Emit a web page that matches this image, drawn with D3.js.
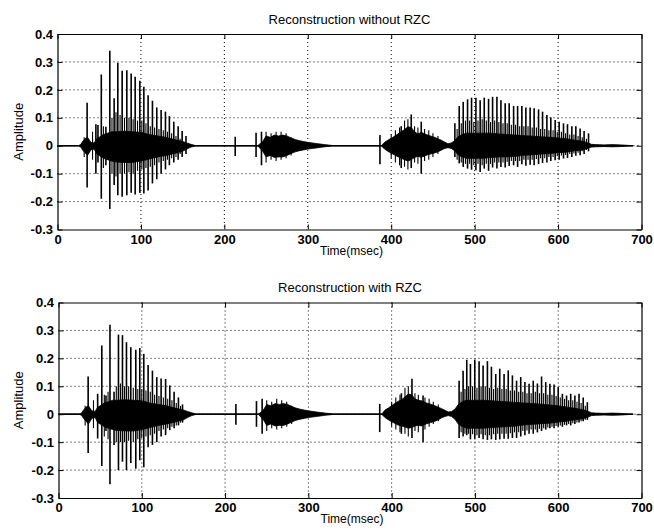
<!DOCTYPE html>
<html>
<head>
<meta charset="utf-8">
<script src="https://cdn.jsdelivr.net/npm/d3@7"></script>
<style>
  body { margin: 0; background: #fff; }
  svg { display: block; font-family: "Liberation Sans", Arial, Helvetica, sans-serif; }
</style>
</head>
<body>
<script>
'use strict';

// axis ticks
const xTicks = [0, 100, 200, 300, 400, 500, 600, 700];
const yTicks = [-0.3, -0.2, -0.1, 0, 0.1, 0.2, 0.3, 0.4];

// time span of the recorded signal (msec)
const signalSpan = [0, 690];

const envTimes = [0, 25, 28, 30, 33, 36, 40, 44, 47, 50, 55, 60, 65, 70, 80, 90, 100, 110, 120, 130, 140, 150, 155, 160, 166,
  240, 246, 250, 255, 260, 265, 270, 275, 280, 285, 290, 295, 300, 310, 320, 332,
  388, 392, 396, 402, 407, 412, 416, 420, 424, 428, 432, 436, 442, 447, 452, 456, 460, 464, 468, 472,
  476, 480, 485, 490, 500, 510, 520, 530, 540, 550, 560, 570, 580, 590, 600, 610, 620, 630, 636, 640,
  645, 655, 665, 675, 690];

// ---- without RZC ----
const topEnvHi = [0, 0, 0.005, 0.015, 0.025, 0.03, 0.012, 0.01, 0.025, 0.03, 0.04, 0.045, 0.05, 0.05, 0.052, 0.05, 0.048, 0.04, 0.035, 0.03, 0.022, 0.015, 0.01, 0.005, 0,
  0, 0.015, 0.035, 0.03, 0.038, 0.035, 0.038, 0.035, 0.028, 0.022, 0.018, 0.015, 0.012, 0.008, 0.004, 0,
  0, 0.012, 0.02, 0.03, 0.04, 0.05, 0.058, 0.068, 0.065, 0.05, 0.042, 0.048, 0.04, 0.035, 0.03, 0.025, 0.02, 0.013, 0.007, 0.01,
  0.018, 0.032, 0.04, 0.045, 0.045, 0.045, 0.045, 0.042, 0.04, 0.038, 0.036, 0.034, 0.032, 0.03, 0.028, 0.025, 0.02, 0.016, 0.01, 0.005,
  0.004, 0.003, 0.004, 0.003, 0];
const topEnvLo = [0, 0, -0.005, -0.015, -0.025, -0.035, -0.015, -0.012, -0.03, -0.035, -0.045, -0.05, -0.055, -0.058, -0.06, -0.06, -0.055, -0.048, -0.04, -0.035, -0.028, -0.02, -0.012, -0.005, 0,
  0, -0.02, -0.04, -0.035, -0.042, -0.04, -0.04, -0.035, -0.028, -0.022, -0.018, -0.015, -0.012, -0.008, -0.004, 0,
  0, -0.012, -0.02, -0.03, -0.038, -0.045, -0.05, -0.055, -0.05, -0.042, -0.038, -0.042, -0.034, -0.03, -0.026, -0.022, -0.016, -0.01, -0.007, -0.01,
  -0.018, -0.032, -0.04, -0.045, -0.045, -0.045, -0.042, -0.04, -0.04, -0.038, -0.034, -0.032, -0.03, -0.028, -0.025, -0.023, -0.018, -0.015, -0.009, -0.005,
  -0.004, -0.003, -0.004, -0.003, 0];

// pitch pulses: time, positive peak, negative peak
const topPulseT = [35.5, 46, 48.5, 52.5, 58, 62.7, 67.9, 72.3, 77.5, 83.1, 88.3, 93.1, 98.7, 103.5, 108.6, 113.8, 119, 124.2, 129.4, 134.1, 139.4, 144.6, 149.4, 154,
  213, 238, 244.5, 386.5, 412, 424, 436,
  476.3, 481.5, 486.3, 491.5, 496.3, 501.5, 506.6, 511.5, 516.7, 521.5, 526.7, 531.5, 536.6, 541.4, 546.7, 551.5, 556.6, 561.4, 566.5, 571.3,
  576.6, 581.4, 586.6, 591.3, 596.5, 601.3, 606.5, 611.3, 616.5, 621.3, 626.4, 631.2, 636.5];
const topPulsePos = [0.154, 0.077, 0.074, 0.255, 0.068, 0.34, 0.17, 0.297, 0.268, 0.27, 0.259, 0.247, 0.233, 0.211, 0.181, 0.161, 0.137, 0.128, 0.122, 0.106, 0.086, 0.07, 0.053, 0.035,
  0.032, 0.046, 0.05, 0.038, 0.07, 0.112, 0.086,
  0.08, 0.142, 0.157, 0.166, 0.172, 0.172, 0.163, 0.172, 0.168, 0.175, 0.175, 0.163, 0.152, 0.152, 0.142, 0.142, 0.142, 0.137, 0.137, 0.134,
  0.13, 0.122, 0.11, 0.101, 0.092, 0.086, 0.08, 0.077, 0.07, 0.07, 0.062, 0.053, 0.044];
const topPulseNeg = [-0.15, -0.1, -0.06, -0.19, -0.07, -0.227, -0.141, -0.177, -0.183, -0.177, -0.168, -0.175, -0.169, -0.171, -0.16, -0.135, -0.12, -0.1, -0.085, -0.07, -0.06, -0.05, -0.04, -0.03,
  -0.037, -0.04, -0.07, -0.066, -0.08, -0.08, -0.1,
  -0.04, -0.063, -0.076, -0.082, -0.086, -0.088, -0.094, -0.082, -0.09, -0.078, -0.082, -0.076, -0.078, -0.073, -0.07, -0.076, -0.066, -0.072, -0.068, -0.07,
  -0.066, -0.062, -0.06, -0.055, -0.052, -0.05, -0.046, -0.044, -0.04, -0.036, -0.034, -0.03, -0.02];

// smaller oscillation peaks between the pitch pulses
const topMinorT = [32, 42, 55, 65.3, 70.1, 75, 80.3, 85.7, 90.7, 95.9, 101.1, 106, 111.2, 116.4, 121.6, 126.8, 131.8, 136.8, 142, 147,
  250, 256, 262, 268, 274, 280,
  400, 405, 410, 416, 420, 428, 432, 440, 445, 450, 456,
  479, 484, 489, 494, 499, 504, 509, 514, 519, 524, 529, 534, 539, 544, 549, 554, 559, 564, 569, 574,
  579, 584, 589, 594, 599, 604, 609, 614, 619, 624, 629, 634];
const topMinorPos = [0.03, 0.05, 0.07, 0.1, 0.12, 0.11, 0.1, 0.1, 0.095, 0.09, 0.09, 0.08, 0.07, 0.065, 0.06, 0.055, 0.05, 0.045, 0.035, 0.025,
  0.05, 0.045, 0.05, 0.05, 0.045, 0.03,
  0.04, 0.055, 0.065, 0.09, 0.095, 0.07, 0.065, 0.06, 0.055, 0.045, 0.035,
  0.06, 0.08, 0.09, 0.09, 0.085, 0.09, 0.095, 0.09, 0.085, 0.09, 0.085, 0.08, 0.08, 0.075, 0.075, 0.07, 0.07, 0.07, 0.065, 0.065,
  0.06, 0.06, 0.055, 0.055, 0.05, 0.05, 0.045, 0.04, 0.04, 0.035, 0.03, 0.025];
const topMinorNeg = [-0.04, -0.05, -0.08, -0.1, -0.11, -0.1, -0.1, -0.095, -0.1, -0.09, -0.085, -0.08, -0.075, -0.07, -0.06, -0.055, -0.05, -0.045, -0.04, -0.03,
  -0.06, -0.05, -0.055, -0.05, -0.045, -0.035,
  -0.045, -0.06, -0.07, -0.075, -0.085, -0.06, -0.065, -0.055, -0.05, -0.04, -0.03,
  -0.05, -0.06, -0.065, -0.065, -0.07, -0.065, -0.07, -0.065, -0.065, -0.06, -0.06, -0.06, -0.058, -0.055, -0.055, -0.055, -0.05, -0.05, -0.05, -0.048,
  -0.045, -0.045, -0.04, -0.04, -0.038, -0.035, -0.033, -0.03, -0.028, -0.025, -0.02, -0.015];

// ---- with RZC ----
const botEnvHi = [0, 0, 0.005, 0.015, 0.025, 0.03, 0.012, 0.01, 0.025, 0.03, 0.04, 0.045, 0.05, 0.05, 0.052, 0.05, 0.048, 0.04, 0.035, 0.03, 0.022, 0.015, 0.01, 0.005, 0,
  0, 0.015, 0.035, 0.03, 0.038, 0.035, 0.038, 0.035, 0.028, 0.022, 0.018, 0.015, 0.012, 0.008, 0.004, 0,
  0, 0.015, 0.022, 0.035, 0.045, 0.052, 0.062, 0.072, 0.07, 0.055, 0.05, 0.048, 0.04, 0.036, 0.03, 0.025, 0.02, 0.014, 0.008, 0.01,
  0.018, 0.035, 0.045, 0.05, 0.05, 0.05, 0.048, 0.046, 0.044, 0.042, 0.04, 0.038, 0.036, 0.033, 0.03, 0.026, 0.021, 0.016, 0.01, 0.005,
  0.004, 0.003, 0.004, 0.003, 0];
const botEnvLo = [0, 0, -0.005, -0.015, -0.025, -0.035, -0.015, -0.012, -0.03, -0.035, -0.045, -0.05, -0.055, -0.058, -0.06, -0.06, -0.055, -0.048, -0.04, -0.035, -0.028, -0.02, -0.012, -0.005, 0,
  0, -0.02, -0.04, -0.035, -0.042, -0.04, -0.04, -0.035, -0.028, -0.022, -0.018, -0.015, -0.012, -0.008, -0.004, 0,
  0, -0.012, -0.02, -0.03, -0.038, -0.042, -0.046, -0.05, -0.048, -0.042, -0.04, -0.042, -0.034, -0.03, -0.025, -0.02, -0.013, -0.008, -0.005, -0.008,
  -0.018, -0.035, -0.045, -0.05, -0.05, -0.05, -0.048, -0.046, -0.044, -0.042, -0.038, -0.036, -0.034, -0.032, -0.028, -0.025, -0.02, -0.016, -0.01, -0.005,
  -0.004, -0.003, -0.004, -0.003, 0];

const botPulseT = [35.6, 47, 52, 57, 61.8, 66.7, 72, 76.8, 81.6, 86.8, 92.8, 97.6, 102.4, 107.6, 112.8, 118, 123.2, 128.6, 133.6, 138.8, 144, 148.9,
  213, 237.7, 244.5, 385.7, 411.7, 424.4, 437.7,
  481, 485.8, 490.2, 494.6, 499.8, 505, 509.8, 515, 519.8, 525, 529.8, 535, 540, 545, 550, 555, 560, 565, 570, 575,
  580, 585, 590, 595, 600, 605, 610, 615, 620, 625, 630, 635];
const botPulsePos = [0.135, 0.073, 0.246, 0.067, 0.32, 0.08, 0.285, 0.283, 0.258, 0.24, 0.231, 0.237, 0.216, 0.176, 0.156, 0.133, 0.128, 0.126, 0.103, 0.08, 0.06, 0.035,
  0.037, 0.047, 0.055, 0.037, 0.075, 0.127, 0.067,
  0.12, 0.156, 0.195, 0.18, 0.195, 0.19, 0.174, 0.19, 0.17, 0.144, 0.163, 0.144, 0.157, 0.139, 0.12, 0.133, 0.115, 0.109, 0.12, 0.11,
  0.135, 0.115, 0.109, 0.106, 0.097, 0.073, 0.067, 0.073, 0.067, 0.073, 0.06, 0.043];
const botPulseNeg = [-0.139, -0.087, -0.185, -0.06, -0.251, -0.11, -0.2, -0.17, -0.2, -0.175, -0.195, -0.165, -0.19, -0.118, -0.11, -0.1, -0.08, -0.075, -0.057, -0.05, -0.04, -0.03,
  -0.038, -0.045, -0.07, -0.064, -0.07, -0.085, -0.1,
  -0.085, -0.08, -0.075, -0.09, -0.088, -0.085, -0.09, -0.092, -0.09, -0.092, -0.09, -0.088, -0.088, -0.085, -0.085, -0.08, -0.075, -0.07, -0.07, -0.065,
  -0.06, -0.055, -0.05, -0.05, -0.045, -0.045, -0.04, -0.04, -0.035, -0.03, -0.025, -0.02];

const botMinorT = [32, 42, 55, 59.5, 69.4, 74.4, 79.2, 84.2, 89.8, 95.2, 100, 105, 110.2, 115.4, 120.6, 125.9, 131.1, 136.2, 141.4, 146.5,
  250, 256, 262, 268, 274, 280,
  400, 405, 410, 416, 420, 428, 432, 440, 445, 450, 456,
  483.4, 488, 492.4, 497.2, 502.4, 507.4, 512.4, 517.4, 522.4, 527.4, 532.4, 537.5, 542.5, 547.5, 552.5, 557.5, 562.5, 567.5, 572.5, 577.5,
  582.5, 587.5, 592.5, 597.5, 602.5, 607.5, 612.5, 617.5, 622.5, 627.5, 632.5];
const botMinorPos = [0.03, 0.05, 0.07, 0.08, 0.1, 0.11, 0.1, 0.1, 0.095, 0.09, 0.09, 0.085, 0.08, 0.07, 0.065, 0.06, 0.055, 0.05, 0.04, 0.03,
  0.05, 0.045, 0.055, 0.05, 0.045, 0.03,
  0.045, 0.06, 0.07, 0.095, 0.1, 0.075, 0.07, 0.06, 0.055, 0.045, 0.035,
  0.08, 0.09, 0.1, 0.1, 0.095, 0.1, 0.1, 0.095, 0.09, 0.095, 0.09, 0.09, 0.085, 0.085, 0.08, 0.08, 0.075, 0.075, 0.08, 0.075,
  0.075, 0.07, 0.07, 0.065, 0.06, 0.055, 0.05, 0.05, 0.045, 0.04, 0.03];
const botMinorNeg = [-0.04, -0.05, -0.08, -0.09, -0.1, -0.1, -0.1, -0.095, -0.1, -0.09, -0.085, -0.08, -0.075, -0.07, -0.06, -0.055, -0.05, -0.045, -0.04, -0.03,
  -0.06, -0.05, -0.055, -0.05, -0.045, -0.035,
  -0.045, -0.055, -0.065, -0.07, -0.08, -0.06, -0.065, -0.055, -0.045, -0.035, -0.025,
  -0.065, -0.07, -0.07, -0.072, -0.075, -0.072, -0.075, -0.075, -0.072, -0.07, -0.07, -0.07, -0.068, -0.065, -0.065, -0.06, -0.058, -0.055, -0.055, -0.052,
  -0.05, -0.048, -0.045, -0.042, -0.04, -0.038, -0.035, -0.032, -0.03, -0.025, -0.02];

(function () {
  const svg = d3.select('body')
    .append('svg')
    .attr('width', 654)
    .attr('height', 531);

  drawPanel({
    box: { left: 57.5, right: 641.5, top: 34, bottom: 229.5 },
    title: 'Reconstruction without RZC',
    titleY: 24,
    xLabelY: 255,
    envHi: topEnvHi, envLo: topEnvLo,
    pulseT: topPulseT, pulsePos: topPulsePos, pulseNeg: topPulseNeg,
    minorT: topMinorT, minorPos: topMinorPos, minorNeg: topMinorNeg
  });

  drawPanel({
    box: { left: 58.5, right: 641.5, top: 302.5, bottom: 498 },
    title: 'Reconstruction with RZC',
    titleY: 292,
    xLabelY: 523,
    envHi: botEnvHi, envLo: botEnvLo,
    pulseT: botPulseT, pulsePos: botPulsePos, pulseNeg: botPulseNeg,
    minorT: botMinorT, minorPos: botMinorPos, minorNeg: botMinorNeg
  });

  // one subplot: grid, waveform, frame with inside ticks, labels
  function drawPanel(cfg) {
    const b = cfg.box;
    const x = d3.scaleLinear().domain([0, 700]).range([b.left, b.right]);
    const y = d3.scaleLinear().domain([-0.3, 0.4]).range([b.bottom, b.top]);
    const g = svg.append('g');

    // dotted grid
    g.selectAll('.vgrid')
      .data(xTicks.slice(1, -1))
      .enter()
      .append('line')
      .attr('x1', (d) => x(d)).attr('x2', (d) => x(d))
      .attr('y1', b.top).attr('y2', b.bottom)
      .attr('stroke', '#000')
      .attr('stroke-width', 1)
      .attr('stroke-dasharray', '1,3');

    g.selectAll('.hgrid')
      .data(yTicks.slice(1, -1))
      .enter()
      .append('line')
      .attr('x1', b.left).attr('x2', b.right)
      .attr('y1', (d) => y(d)).attr('y2', (d) => y(d))
      .attr('stroke', '#000')
      .attr('stroke-width', 1)
      .attr('stroke-dasharray', '1,3');

    // zero line of the signal
    g.append('line')
      .attr('x1', x(signalSpan[0])).attr('x2', x(signalSpan[1]))
      .attr('y1', y(0)).attr('y2', y(0))
      .attr('stroke', '#000')
      .attr('stroke-width', 1.4);

    // solid core of the waveform
    const env = envTimes.map((t, i) => ({ t: t, hi: cfg.envHi[i], lo: cfg.envLo[i] }));
    const area = d3.area()
      .x((d) => x(d.t))
      .y0((d) => y(d.lo))
      .y1((d) => y(d.hi));
    g.append('path')
      .datum(env)
      .attr('d', area)
      .attr('fill', '#000')
      .attr('stroke', '#000')
      .attr('stroke-width', 0.8);

    // smaller oscillation peaks
    drawSpikes(g, x, y, cfg.minorT, cfg.minorPos, cfg.minorNeg, 1.1);

    // pitch pulses
    drawSpikes(g, x, y, cfg.pulseT, cfg.pulsePos, cfg.pulseNeg, 1.6);

    // frame with inward ticks
    const tick = 5;
    g.append('g')
      .attr('transform', `translate(0, ${b.bottom})`)
      .call(d3.axisBottom(x).tickValues(xTicks).tickSizeInner(-tick).tickSizeOuter(0).tickPadding(5).tickFormat(d3.format('d')))
      .call(styleAxis);
    g.append('g')
      .attr('transform', `translate(0, ${b.top})`)
      .call(d3.axisTop(x).tickValues(xTicks).tickSizeInner(-tick).tickSizeOuter(0).tickFormat(''))
      .call(styleAxis);
    g.append('g')
      .attr('transform', `translate(${b.left}, 0)`)
      .call(d3.axisLeft(y).tickValues(yTicks).tickSizeInner(-tick).tickSizeOuter(0).tickPadding(4.5)
        .tickFormat((d) => (Math.abs(d) < 1e-9 ? '0' : d3.format('.1f')(d).replace('\u2212', '-'))))
      .call(styleAxis);
    g.append('g')
      .attr('transform', `translate(${b.right}, 0)`)
      .call(d3.axisRight(y).tickValues(yTicks).tickSizeInner(-tick).tickSizeOuter(0).tickFormat(''))
      .call(styleAxis);

    // title and axis labels
    g.append('text')
      .attr('x', (b.left + b.right) / 2)
      .attr('y', cfg.titleY)
      .attr('text-anchor', 'middle')
      .style('font-size', '13px')
      .text(cfg.title);

    g.append('text')
      .attr('x', (b.left + b.right) / 2 + 2)
      .attr('y', cfg.xLabelY)
      .attr('text-anchor', 'middle')
      .style('font-size', '12px')
      .text('Time(msec)');

    g.append('text')
      .attr('transform', `translate(23, ${(b.top + b.bottom) / 2})rotate(-90)`)
      .attr('text-anchor', 'middle')
      .style('font-size', '13px')
      .text('Amplitude');
  }

  // vertical strokes from negative to positive peak
  function drawSpikes(g, x, y, times, pos, neg, width) {
    const spikes = times.map((t, i) => ({ t: t, pos: pos[i], neg: neg[i] }));
    g.append('g')
      .selectAll('line')
      .data(spikes)
      .enter()
      .append('line')
      .attr('x1', (d) => x(d.t)).attr('x2', (d) => x(d.t))
      .attr('y1', (d) => y(d.neg)).attr('y2', (d) => y(d.pos))
      .attr('stroke', '#000')
      .attr('stroke-width', width);
  }

  function styleAxis(sel) {
    sel.select('.domain').attr('stroke', '#000').attr('stroke-width', 1.2);
    sel.selectAll('.tick line').attr('stroke', '#000').attr('stroke-width', 1);
    sel.selectAll('.tick text')
      .attr('fill', '#000')
      .style('font-size', '13px')
      .style('font-weight', 'bold')
      .style('font-family', '"Liberation Sans", Arial, Helvetica, sans-serif');
  }
})();
</script>
</body>
</html>
